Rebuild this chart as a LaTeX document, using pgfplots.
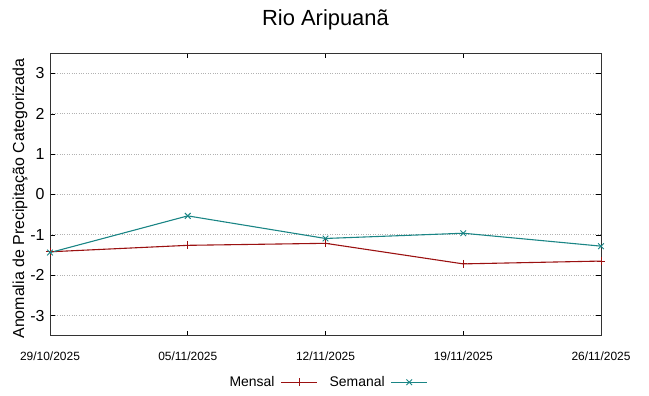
\documentclass[border=0pt]{standalone}
\usepackage{pgfplots}
\pgfplotsset{compat=1.18}
\usepackage{fontspec}
\setmainfont{Liberation Sans}
\definecolor{mensal}{HTML}{9B1111}
\definecolor{semanal}{HTML}{1A8585}
\begin{document}
\begin{tikzpicture}
\begin{axis}[
  scale only axis,
  width=551bp, height=282.4bp,
  xmin=0, xmax=4, ymin=-3.5, ymax=3.5,
  xtick={0,1,2,3,4},
  xticklabels={29/10/2025,05/11/2025,12/11/2025,19/11/2025,26/11/2025},
  ytick={-3,-2,-1,0,1,2,3},
  yticklabels={-3,-2,-1,0,1,2,3},
  tick align=inside,
  major tick length=5bp,
  tick style={black, line width=0.6pt},
  axis line style={black!80, line width=0.8pt},
  ymajorgrids,
  major grid style={gray!60, dotted, line width=0.7pt},
  xticklabel style={font=\fontsize{12}{13}\selectfont, yshift=-13bp},
  yticklabel style={font=\fontsize{16}{17}\selectfont, xshift=-2bp},
  /pgf/number format/assume math mode=true,
  ylabel={Anomalia de Precipitação Categorizada},
  ylabel style={font=\fontsize{16}{17}\selectfont, yshift=-4bp, xshift=-4bp},
  title={Rio Aripuanã},
  title style={font=\fontsize{22}{24}\selectfont, yshift=14bp},
  legend style={at={(0.504,-0.165)}, anchor=center, draw=none, fill=none,
    font=\fontsize{14}{15}\selectfont, legend columns=2,
    /tikz/every odd column/.append style={column sep=4bp},
    /tikz/every even column/.append style={column sep=10bp}},
  legend plot pos=right,
  legend cell align=right,
  legend image code/.code={%
    \draw[mark repeat=2,mark phase=2,#1] plot coordinates {(0bp,0bp) (18bp,0bp) (36bp,0bp)};},
]
\addplot[color=mensal, line width=1.1pt, mark=+, mark size=4bp, mark options={line width=0.9pt}] coordinates {
  (0,-1.42) (1,-1.26) (2,-1.21) (3,-1.72) (4,-1.65)
};
\addlegendentry{Mensal}
\addplot[color=semanal, line width=1.1pt, mark=x, mark size=4bp, mark options={line width=0.9pt}] coordinates {
  (0,-1.44) (1,-0.53) (2,-1.09) (3,-0.96) (4,-1.28)
};
\addlegendentry{Semanal}
\end{axis}
\pgfresetboundingbox
\path[use as bounding box] ([shift={(-50bp,-60.3bp)}]current axis.south west) rectangle ([shift={(599bp,335.7bp)}]current axis.south west);
\end{tikzpicture}
\end{document}
